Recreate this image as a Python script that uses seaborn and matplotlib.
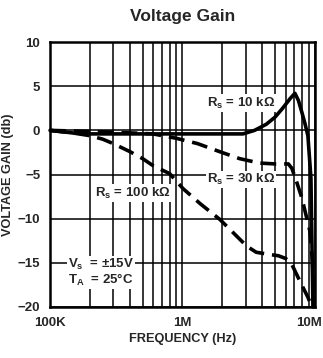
import pandas as pd
import seaborn as sns
import matplotlib
matplotlib.use('Agg')
import matplotlib.pyplot as plt
from matplotlib.ticker import FixedLocator, LogLocator, NullFormatter
from matplotlib.transforms import ScaledTranslation

# curve data (frequency in Hz, gain in dB)
freq_10k = [1e5, 1.5e5, 2e5, 5e5, 1e6, 2e6, 2.86e6, 3.5e6, 4.3e6, 5e6, 5.7e6,
            6.5e6, 7.06e6, 7.5e6, 7.95e6, 8.4e6, 8.85e6, 9.33e6, 9.66e6]
gain_10k = [0.0, -0.3, -0.4, -0.4, -0.4, -0.4, -0.4, 0.0, 0.7, 1.5, 2.5,
            3.6, 4.2, 3.4, 2.1, 0.8, -0.6, -5.4, -20.0]

freq_30k = [1e5, 3e5, 6e5, 9e5, 1.3e6, 1.9e6, 2.7e6, 3.8e6, 5e6, 6.3e6,
            6.7e6, 7.3e6, 7.95e6, 9.16e6, 9.6e6, 9.8e6]
gain_30k = [0.0, -0.2, -0.4, -0.9, -1.5, -2.4, -3.2, -3.7, -3.8, -3.8,
            -4.3, -5.9, -7.6, -11.4, -15.0, -20.0]

freq_100k = [1e5, 1.5e5, 2e5, 2.5e5, 3e5, 4e5, 5e5, 6e5, 8e5, 1.01e6, 1.36e6,
             1.92e6, 3.05e6, 3.6e6, 4.3e6, 5.3e6, 6.0e6, 6.6e6, 7.06e6,
             7.95e6, 8.85e6, 9.5e6]
gain_100k = [0.0, -0.3, -0.6, -1.0, -1.5, -2.4, -3.2, -4.0, -4.9, -6.6, -8.3,
             -10.1, -13.1, -13.8, -14.0, -14.2, -14.5, -15.0, -15.9,
             -17.5, -18.9, -20.0]

x_ticks = [1e5, 1e6, 1e7]
x_labels = ['100K', '1M', '10M']
y_ticks = [10, 5, 0, -5, -10, -15, -20]

sns.set_style('white')
plt.rcParams['font.family'] = ['Liberation Sans Narrow', 'Liberation Sans', 'DejaVu Sans']
plt.rcParams['font.weight'] = 'bold'
plt.rcParams['mathtext.default'] = 'regular'

fig = plt.figure(figsize=(3.23, 3.58), dpi=100)
ax = fig.add_axes([0.155, 0.1425, 0.82, 0.740])

dash = (0, (4.4, 2.2))
sns.lineplot(x=freq_100k, y=gain_100k, ax=ax, color='black', lw=2.6,
             linestyle=dash, sort=False, clip_on=False)
sns.lineplot(x=freq_30k, y=gain_30k, ax=ax, color='black', lw=2.6,
             linestyle=dash, sort=False, clip_on=False)
sns.lineplot(x=freq_10k, y=gain_10k, ax=ax, color='black', lw=2.6,
             sort=False, clip_on=False)

ax.set_xscale('log')
ax.set_xlim(1e5, 1e7)
ax.set_ylim(-20, 10)

# grid: all log decade subdivisions, every 5 dB
ax.xaxis.set_major_locator(FixedLocator(x_ticks))
ax.xaxis.set_minor_locator(LogLocator(base=10, subs=range(2, 10)))
ax.xaxis.set_minor_formatter(NullFormatter())
ax.set_xticklabels(x_labels)
ax.set_yticks(y_ticks)
ax.set_yticklabels([('\u2212' + str(-v)) if v < 0 else str(v) for v in y_ticks])
ax.grid(True, which='both', color='black', lw=1.1)
ax.set_axisbelow(True)
ax.tick_params(which='both', length=0, labelsize=9.5, pad=7)

# last x label sits on the figure edge; nudge it inward a little
last = ax.get_xticklabels()[-1]
last.set_transform(last.get_transform() + ScaledTranslation(-6 / 100, 0, fig.dpi_scale_trans))

for s in ax.spines.values():
    s.set_linewidth(1.8)
    s.set_color('black')
    s.set_zorder(5)

ax.set_title('Voltage Gain', fontsize=12.5, fontweight='bold',
             family=['Liberation Sans', 'DejaVu Sans'], pad=15)
ax.set_xlabel('FREQUENCY (Hz)', fontsize=9.2, fontweight='bold', labelpad=3)
ax.set_ylabel('VOLTAGE GAIN (db)', fontsize=9.2, fontweight='bold', labelpad=3)

box = dict(facecolor='white', edgecolor='none', pad=0.8)
kw = dict(fontsize=9.5, fontweight='bold', ha='left', va='center', bbox=box, zorder=4)
ax.text(1.53e6, 3.1, 'R$_s$ = 10 k\u03a9', **kw)
ax.text(1.53e6, -5.6, 'R$_s$ = 30 k\u03a9', **kw)
ax.text(2.19e5, -7.1, 'R$_s$ = 100 k\u03a9', **kw)
ax.text(1.37e5, -15.2, 'V$_s$  = \u00b115V', **kw)
ax.text(1.37e5, -16.9, 'T$_A$  = 25\u00b0C', **kw)

fig.savefig('out.png', dpi=100)
